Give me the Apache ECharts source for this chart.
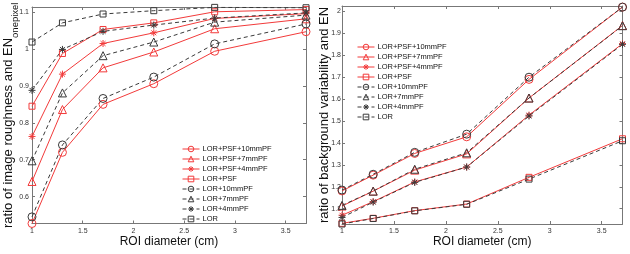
<!DOCTYPE html>
<html>
<head>
<meta charset="utf-8">
<script src="https://cdn.jsdelivr.net/npm/echarts@6/dist/echarts.min.js"></script>
<style>
  html, body { margin: 0; padding: 0; background: #fff; }
  #main { width: 630px; height: 254px; }
</style>
</head>
<body>
<div id="main"></div>
<script>
// ROI diameters (cm), shared x values
const roiDiameter = [1, 1.3, 1.7, 2.2, 2.8, 3.7];
const seriesNames = ['LOR+PSF+10mmPF', 'LOR+PSF+7mmPF', 'LOR+PSF+4mmPF', 'LOR+PSF',
  'LOR+10mmPF', 'LOR+7mmPF', 'LOR+4mmPF', 'LOR'];

// left panel: ratio of image roughness and EN_onepixel
const roughPsf10 = [0.527, 0.72, 0.85, 0.906, 0.994, 1.047];
const roughPsf7 = [0.641, 0.836, 0.949, 0.992, 1.055, 1.082];
const roughPsf4 = [0.763, 0.932, 1.015, 1.044, 1.083, 1.096];
const roughPsf = [0.845, 0.988, 1.053, 1.071, 1.101, 1.107];
const roughLor10 = [0.545, 0.74, 0.866, 0.924, 1.014, 1.068];
const roughLor7 = [0.697, 0.881, 0.982, 1.019, 1.073, 1.092];
const roughLor4 = [0.888, 0.999, 1.048, 1.065, 1.084, 1.098];
const roughLor = [1.019, 1.071, 1.095, 1.104, 1.113, 1.112];

// right panel: ratio of background variability and EN
const bvPsf10 = [1.181, 1.253, 1.352, 1.428, 1.69, 2.02];
const bvPsf7 = [1.112, 1.18, 1.276, 1.35, 1.605, 1.936];
const bvPsf4 = [1.07, 1.132, 1.222, 1.29, 1.527, 1.853];
const bvPsf = [1.033, 1.056, 1.091, 1.121, 1.243, 1.419];
const bvLor10 = [1.185, 1.257, 1.357, 1.44, 1.70, 2.02];
const bvLor7 = [1.115, 1.18, 1.28, 1.355, 1.605, 1.935];
const bvLor4 = [1.06, 1.13, 1.22, 1.29, 1.523, 1.85];
const bvLor = [1.03, 1.055, 1.09, 1.12, 1.235, 1.41];

// tick labels
const xTicks = [1, 1.5, 2, 2.5, 3, 3.5];
const roughTicks = [0.6, 0.7, 0.8, 0.9, 1, 1.1];
const bvTicks = [1.1, 1.2, 1.3, 1.4, 1.5, 1.6, 1.7, 1.8, 1.9, 2];

const roughData = [roughPsf10, roughPsf7, roughPsf4, roughPsf, roughLor10, roughLor7, roughLor4, roughLor];
const bvData = [bvPsf10, bvPsf7, bvPsf4, bvPsf, bvLor10, bvLor7, bvLor4, bvLor];

const RED = '#f23a3a';
const BLACK = '#3a3a3a';
const CLEAR = 'rgba(0,0,0,0)';
const ASTERISK = 'path://M0,-5L0,5M-5,0L5,0M-3.5,-3.5L3.5,3.5M-3.5,3.5L3.5,-3.5';
const symbols = ['circle', 'triangle', ASTERISK, 'rect'];
const symbolSizes = [8, 8, 7, 6];

function makeSeries (values, i, g) {
  const psf = i < 4
  const c = psf ? RED : BLACK
  return {
    name: seriesNames[i],
    type: 'line',
    xAxisIndex: g * 2,
    yAxisIndex: g * 2,
    data: roiDiameter.map((x, k) => [x, values[k]]),
    symbol: symbols[i % 4],
    symbolSize: symbolSizes[i % 4],
    showAllSymbol: true,
    lineStyle: { color: c, width: 1, type: psf ? 'solid' : [4, 3] },
    itemStyle: { color: CLEAR, borderColor: c, borderWidth: 1 },
    emphasis: { disabled: true },
    animation: false
  }
}

function xAxes (g) {
  const base = {
    type: 'value', gridIndex: g, min: 1, max: 3.7,
    axisLine: { show: true, lineStyle: { color: '#777', width: 1 } },
    axisTick: { show: true, inside: true, length: 3, customValues: xTicks, lineStyle: { color: '#777' } },
    splitLine: { show: false }
  }
  return [
    Object.assign({}, base, {
      position: 'bottom',
      axisLabel: { customValues: xTicks, fontSize: 7, color: '#333', margin: 4, fontFamily: 'Liberation Sans' },
      name: 'ROI diameter (cm)',
      nameLocation: 'middle',
      nameGap: 12,
      nameMoveOverlap: false,
      nameTextStyle: { fontSize: 12, color: '#111', fontFamily: 'Liberation Sans' }
    }),
    Object.assign({}, base, { position: 'top', axisLabel: { show: false } })
  ]
}

function yAxes (g, min, max, ticks, name, gap, labelMargin) {
  const base = {
    type: 'value', gridIndex: g, min: min, max: max,
    axisLine: { show: true, lineStyle: { color: '#777', width: 1 } },
    axisTick: { show: true, inside: true, length: 3, customValues: ticks, lineStyle: { color: '#777' } },
    splitLine: { show: false }
  }
  return [
    Object.assign({}, base, {
      position: 'left',
      axisLabel: { customValues: ticks, fontSize: 7, color: '#333', margin: labelMargin, fontFamily: 'Liberation Sans' },
      name: name,
      nameLocation: 'middle',
      nameRotate: 90,
      nameGap: gap,
      nameMoveOverlap: false,
      nameTextStyle: {
        fontSize: 13, color: '#111', fontFamily: 'Liberation Sans',
        rich: {
          a: { fontSize: 13, color: '#111', fontFamily: 'Liberation Sans' },
          b: { fontSize: 9.5, color: '#111', fontFamily: 'Liberation Sans', padding: [13, 0, 0, 0] }
        }
      }
    }),
    Object.assign({}, base, { position: 'right', axisLabel: { show: false } })
  ]
}

function legend (left, top) {
  return {
    data: seriesNames,
    orient: 'vertical',
    left: left,
    top: top,
    itemWidth: 17,
    itemHeight: 7,
    itemGap: 2,
    selectedMode: false,
    itemStyle: { color: CLEAR, borderWidth: 1 },
    lineStyle: { width: 1 },
    textStyle: { fontSize: 7.5, lineHeight: 8, color: '#111', fontFamily: 'Liberation Sans', padding: [0, 0, 0, -2] }
  }
}

const chart = echarts.init(document.getElementById('main'), null, { renderer: 'canvas' })
chart.setOption({
  animation: false,
  backgroundColor: '#fff',
  grid: [
    { left: 32, top: 7, width: 274, height: 216.5 },
    { left: 342, top: 6, width: 280.5, height: 218 }
  ],
  legend: [legend(177, 140), legend(352, 38)],
  xAxis: xAxes(0).concat(xAxes(1)),
  yAxis: yAxes(0, 0.527, 1.114, roughTicks, '{a|ratio of image roughness and EN}{b|onepixel}', 12, 3)
    .concat(yAxes(1, 1.03, 2.025, bvTicks, 'ratio of background variability and EN', 11, 1)),
  series: roughData.map((v, i) => makeSeries(v, i, 0))
    .concat(bvData.map((v, i) => makeSeries(v, i, 1)))
})
</script>
</body>
</html>
